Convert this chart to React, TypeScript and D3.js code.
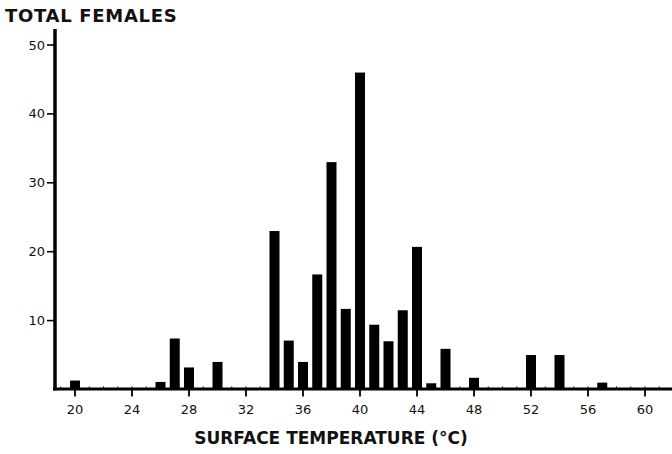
import * as d3 from "d3";

// ── Data ──────────────────────────────────────────────────────────────────────

const TEMPS  = [20, 26, 27, 28, 30, 34, 35, 36, 37, 38, 39, 40, 41, 42, 43, 44, 45, 46, 48, 52, 54, 57];
const COUNTS = [1.3, 1.1, 7.4, 3.2, 4, 23, 7.1, 4, 16.7, 33, 11.7, 46, 9.4, 7, 11.5, 20.7, 0.9, 5.9, 1.7, 5, 5, 1];

const X_TICKS = [20, 24, 28, 32, 36, 40, 44, 48, 52, 56, 60];
const Y_TICKS = [10, 20, 30, 40, 50];

// ── Config ────────────────────────────────────────────────────────────────────

const W = 672;
const H = 454;
const FONT = "'DejaVu Sans', sans-serif";

const x = d3.scaleLinear().domain([20, 60]).range([75, 645]);
const y = d3.scaleLinear().domain([0, 50]).range([389.5, 45]);

const AXIS_X = 55;
const BAR_W = 10;

// ── Component ─────────────────────────────────────────────────────────────────

export default function App() {
  const minor = d3.range(19, 62);

  return (
    <svg width={W} height={H} style={{ position: "absolute", left: 0, top: 0, background: "#fff" }}>
      {/* Title */}
      <text x={5} y={22} fontFamily={FONT} fontWeight="bold" fontSize={18} letterSpacing={0.7} fill="#111">
        TOTAL FEMALES
      </text>

      {/* Bars */}
      {TEMPS.map((t, i) => (
        <rect
          key={t}
          x={x(t) - BAR_W / 2}
          y={y(COUNTS[i])}
          width={BAR_W}
          height={y(0) - y(COUNTS[i])}
          fill="#000"
        />
      ))}

      {/* Y axis */}
      <line x1={AXIS_X} x2={AXIS_X} y1={29} y2={y(0) + 1} stroke="#000" strokeWidth={3.5} />
      {Y_TICKS.map((v) => (
        <g key={v}>
          <line x1={AXIS_X - 8} x2={AXIS_X} y1={y(v)} y2={y(v)} stroke="#000" strokeWidth={1.6} />
          <text x={AXIS_X - 10} y={y(v) + 4.5} textAnchor="end" fontFamily={FONT} fontSize={13} fill="#111">
            {v}
          </text>
        </g>
      ))}

      {/* X axis */}
      <line x1={AXIS_X - 2} x2={W} y1={y(0) - 0.5} y2={y(0) - 0.5} stroke="#000" strokeWidth={3} />
      {minor.map((t) => (
        <line key={t} x1={x(t)} x2={x(t)} y1={y(0) - 3} y2={y(0)} stroke="#000" strokeWidth={1} />
      ))}
      {X_TICKS.map((t) => (
        <g key={t}>
          <line x1={x(t)} x2={x(t)} y1={y(0)} y2={y(0) + 7} stroke="#000" strokeWidth={1.8} />
          <text x={x(t)} y={y(0) + 24} textAnchor="middle" fontFamily={FONT} fontSize={13} fill="#111">
            {t}
          </text>
        </g>
      ))}

      {/* X label */}
      <text x={331} y={444} textAnchor="middle" fontFamily={FONT} fontWeight="bold" fontSize={17} fill="#111">
        SURFACE TEMPERATURE (°C)
      </text>
    </svg>
  );
}
